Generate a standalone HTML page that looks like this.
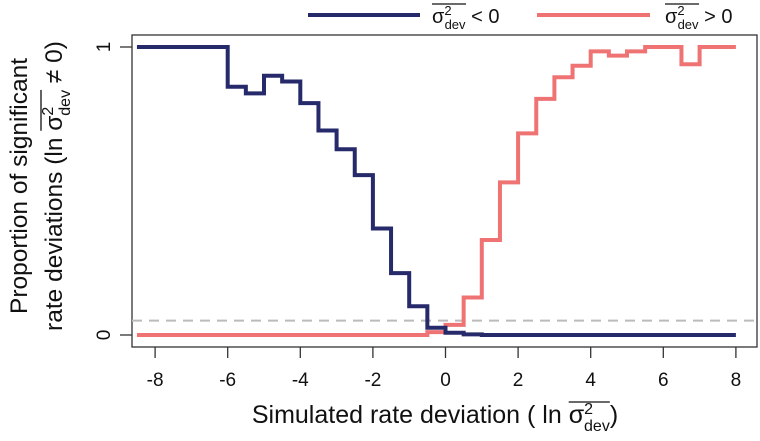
<!DOCTYPE html>
<html><head><meta charset="utf-8"><style>
body{margin:0;background:#fff}
svg{display:block;font-family:"Liberation Sans",Arial,sans-serif}
</style></head><body>
<svg id="chart" width="760" height="441" viewBox="0 0 760 441">
<rect x="132" y="35" width="625" height="312" fill="none" stroke="#333" stroke-width="1.3"/>
<g id="xaxis"></g>
<g id="yaxis"></g>
<line x1="132" x2="757" y1="320.6" y2="320.6" stroke="#bbb" stroke-width="2" stroke-dasharray="10,7"/>
<g id="series"></g>
<g id="overlines"></g>
<g font-size="24.5" fill="#111">
<text transform="translate(27,186) rotate(-90)" text-anchor="middle">Proportion of significant</text>
<text class="ol" data-rot="1" transform="translate(62,186) rotate(-90)" text-anchor="middle">rate deviations (ln <tspan class="sig">σ</tspan><tspan class="sup" font-size="16" dy="-9">2</tspan><tspan font-size="16" dy="17" dx="-9" class="dev">dev</tspan><tspan dy="-8"> ≠ 0)</tspan></text>
</g>
<text class="ol" x="435" y="423" text-anchor="middle" font-size="25" fill="#111">Simulated rate deviation ( ln <tspan class="sig">σ</tspan><tspan class="sup" font-size="16" dy="-9">2</tspan><tspan font-size="16" dy="17" dx="-9" class="dev">dev</tspan><tspan dy="-8">)</tspan></text>
<g>
<line x1="308" x2="420" y1="15" y2="15" stroke="#262a6b" stroke-width="4"/>
<text class="ol" x="432" y="23" font-size="20" fill="#111"><tspan class="sig">σ</tspan><tspan class="sup" font-size="13" dy="-8">2</tspan><tspan font-size="13" dy="14" dx="-7" class="dev">dev</tspan><tspan dy="-6"> &lt; 0</tspan></text>
<line x1="537" x2="650" y1="15" y2="15" stroke="#ef7373" stroke-width="4"/>
<text class="ol" x="665" y="23" font-size="20" fill="#111"><tspan class="sig">σ</tspan><tspan class="sup" font-size="13" dy="-8">2</tspan><tspan font-size="13" dy="14" dx="-7" class="dev">dev</tspan><tspan dy="-6"> &gt; 0</tspan></text>
</g>
</svg>
<script>
const xValues=[-8.5,-8,-7.5,-7,-6.5,-6,-5.5,-5,-4.5,-4,-3.5,-3,-2.5,-2,-1.5,-1,-0.5,0,0.5,1,1.5,2,2.5,3,3.5,4,4.5,5,5.5,6,6.5,7,7.5,8];
const negativeSeries=[1,1,1,1,1,0.862,0.839,0.90,0.88,0.805,0.71,0.645,0.555,0.37,0.215,0.10,0.025,0.008,0.002,0,0,0,0,0,0,0,0,0,0,0,0,0,0,0];
const positiveSeries=[0,0,0,0,0,0,0,0,0,0,0,0,0,0,0,0,0.01,0.035,0.13,0.33,0.53,0.70,0.82,0.895,0.935,0.985,0.97,0.985,1,1,0.94,1,1,1];
const xTicks=[-8,-6,-4,-2,0,2,4,6,8];
const yTicks=[0,1];
const sx=v=>445.5+v*36.3;
const sy=v=>335-v*288;
const NS="http://www.w3.org/2000/svg";
const xa=document.getElementById('xaxis'),ya=document.getElementById('yaxis'),sg=document.getElementById('series');
xTicks.forEach(t=>{
 const l=document.createElementNS(NS,'line');
 l.setAttribute('x1',sx(t));l.setAttribute('x2',sx(t));l.setAttribute('y1',347);l.setAttribute('y2',358);
 l.setAttribute('stroke','#333');l.setAttribute('stroke-width','1.3');
 
 
 xa.appendChild(l);
 const tx=document.createElementNS(NS,'text');
 tx.setAttribute('x',sx(t));tx.setAttribute('y',386);tx.setAttribute('text-anchor','middle');tx.setAttribute('font-size','19');tx.setAttribute('fill','#111');
 tx.textContent=t;
 
 
 xa.appendChild(tx);
});
yTicks.forEach(t=>{
 const l=document.createElementNS(NS,'line');
 l.setAttribute('x1',120);l.setAttribute('x2',132);l.setAttribute('y1',sy(t));l.setAttribute('y2',sy(t));
 l.setAttribute('stroke','#333');l.setAttribute('stroke-width','1.3');
 
 
 ya.appendChild(l);
 const tx=document.createElementNS(NS,'text');
 tx.setAttribute('transform','translate(110,'+sy(t)+') rotate(-90)');tx.setAttribute('text-anchor','middle');tx.setAttribute('font-size','19');tx.setAttribute('fill','#111');
 tx.textContent=t;
 
 
 ya.appendChild(tx);
});
function stepPath(vals){
 let d='M'+sx(xValues[0])+','+sy(vals[0]);
 for(let i=1;i<xValues.length;i++){d+=' H'+sx(xValues[i])+' V'+sy(vals[i]);}
 return d;
}
[[positiveSeries,'#ef7373','positive-series-line'],[negativeSeries,'#262a6b','negative-series-line']].forEach(s=>{
 const p=document.createElementNS(NS,'path');
 p.setAttribute('d',stepPath(s[0]));p.setAttribute('fill','none');p.setAttribute('stroke',s[1]);p.setAttribute('stroke-width','4');
 
 
 sg.appendChild(p);
});
// overlines over sigma^2_dev from tspan screen boxes
const svgEl=document.getElementById('chart');
const og=document.getElementById('overlines');
const sr=svgEl.getBoundingClientRect();
document.querySelectorAll('text.ol').forEach(t=>{
 const rs=['.sig','.sup','.dev'].map(c=>t.querySelector(c).getBoundingClientRect());
 const L=Math.min(...rs.map(r=>r.left))-sr.left,R=Math.max(...rs.map(r=>r.right))-sr.left;
 const T=Math.min(...rs.map(r=>r.top))-sr.top,B=Math.max(...rs.map(r=>r.bottom))-sr.top;
 const l=document.createElementNS(NS,'line');
 if(t.getAttribute('data-rot')){
  l.setAttribute('x1',L+1);l.setAttribute('x2',L+1);l.setAttribute('y1',T);l.setAttribute('y2',B);
 }else{
  l.setAttribute('x1',L);l.setAttribute('x2',R);l.setAttribute('y1',T+1);l.setAttribute('y2',T+1);
 }
 l.setAttribute('stroke','#111');l.setAttribute('stroke-width','1.3');
 
 
 og.appendChild(l);
});
</script>
</body></html>
